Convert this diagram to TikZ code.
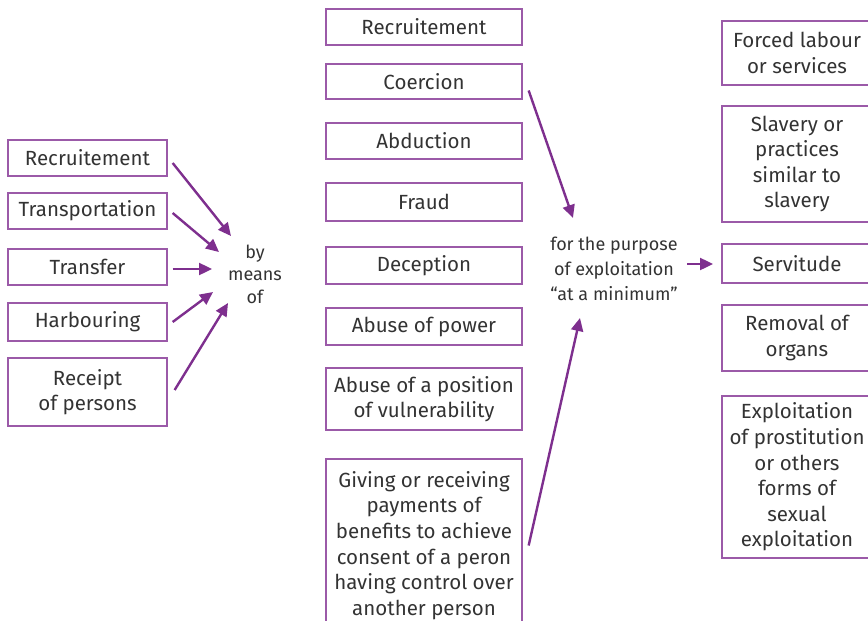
\documentclass[tikz,border=0pt]{standalone}
\usepackage{fontspec}
\setmainfont{Fira Sans}
\usetikzlibrary{arrows.meta}
\definecolor{boxc}{HTML}{9B5AA8}
\definecolor{arrc}{HTML}{7E2F8E}
\definecolor{txtc}{HTML}{333333}
\tikzset{
  bx/.style={draw=boxc, line width=1.3pt, inner sep=0pt, align=center, text=txtc,
    font=\fontsize{20.5}{25.6}\selectfont},
  lbl/.style={inner sep=0pt, align=center, text=txtc, font=\fontsize{18}{25}\selectfont},
  arr/.style={draw=arrc, line width=2.4pt, -{Triangle[length=13pt,width=12pt]}},
}
\newcommand{\bxat}[6]{% name, x1, y1, x2, y2, text
  \node[bx, minimum width={#4-#2}, minimum height={#5-#3}] (#1) at ({(#2+#4)/2},{(#3+#5)/2}) {#6};}
\begin{document}
\begin{tikzpicture}[x=1pt,y=-1pt]
\useasboundingbox (0,0) rectangle (868,621);
% left column
\bxat{l1}{8}{140}{167}{176}{Recruitement}
\bxat{l2}{8}{193}{167}{229}{Transportation}
\bxat{l3}{8}{249}{167}{285}{Transfer}
\bxat{l4}{8}{303}{167}{341}{Harbouring}
\bxat{l5}{8}{358}{167}{426}{Receipt\\of persons}
\node[lbl, font=\fontsize{18}{22.5}\selectfont] (means) at (255,274) {by\\means\\of};
\coordinate (e1) at (231,236);
\coordinate (e2) at (219,252);
\coordinate (e3) at (212,269);
\coordinate (e4) at (213,292);
\coordinate (e5) at (228,303);
\draw[arr] ([xshift=5pt,yshift=-5pt]l1.east) -- (e1);
\draw[arr] ([xshift=5pt,yshift=-2pt]l2.east) -- (e2);
\draw[arr] ([xshift=5pt,yshift=-2pt]l3.east) -- (e3);
\draw[arr] ([xshift=5pt]l4.east) -- (e4);
\draw[arr] ([xshift=7pt,yshift=2pt]l5.east) -- (e5);
% middle column
\bxat{m1}{326}{9}{522}{45}{Recruitement}
\bxat{m2}{326}{64}{522}{99}{Coercion}
\bxat{m3}{326}{123}{522}{159}{Abduction}
\bxat{m4}{326}{183}{522}{221}{Fraud}
\bxat{m5}{326}{247}{522}{284}{Deception}
\bxat{m6}{326}{308}{522}{345}{Abuse of power}
\bxat{m7}{326}{368}{522}{430}{Abuse of a position\\of vulnerability}
\bxat{m8}{326}{459}{522}{632}{Giving or receiving\\payments of\\benefits to achieve\\consent of a peron\\having control over\\another person}
\node[lbl] (purpose) at (614,269) {for the purpose\\of exploitation\\``at a minimum''};
\coordinate (p1) at (573,218);
\coordinate (p2) at (580,318);
\coordinate (p3s) at (687,264);
\coordinate (p3) at (713,264);
\draw[arr] ([xshift=6pt,yshift=-9pt]m2.east) -- (p1);
\draw[arr] ([xshift=6pt]m8.east) -- (p2);
\draw[arr] (p3s) -- (p3);
% right column
\bxat{r1}{722}{21}{872}{85}{Forced labour\\or services}
\bxat{r2}{722}{106}{872}{222}{Slavery or\\practices\\similar to\\slavery}
\bxat{r3}{722}{244}{872}{283}{Servitude}
\bxat{r4}{722}{305}{872}{371}{Removal of\\organs}
\bxat{r5}{722}{396}{872}{558}{Exploitation\\of prostitution\\or others\\forms of\\sexual\\exploitation}
\end{tikzpicture}
\end{document}
